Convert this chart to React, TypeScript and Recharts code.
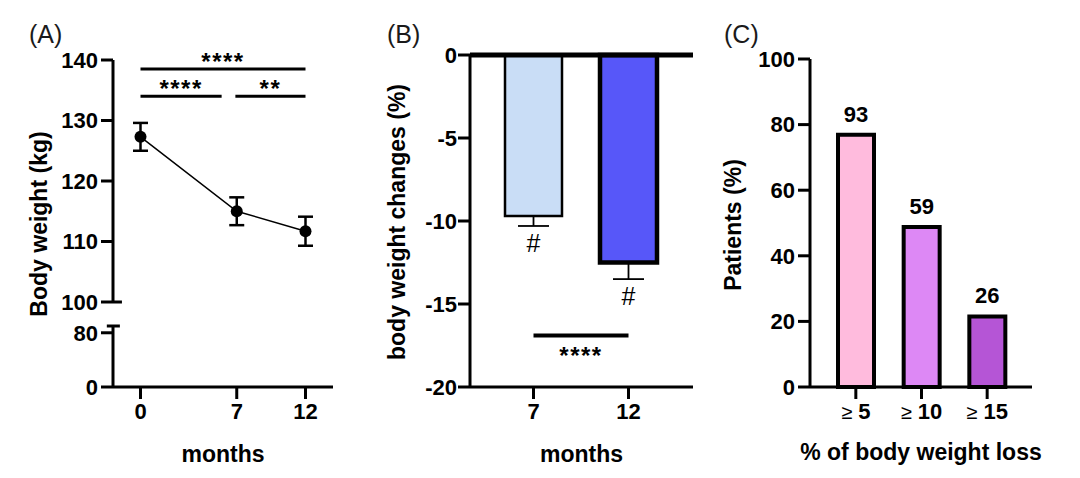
import React from 'react';
import {
  LineChart,
  Line,
  BarChart,
  Bar,
  Cell,
  XAxis,
  YAxis,
  ErrorBar,
  ReferenceLine,
  ReferenceDot,
  LabelList,
} from 'recharts';

const FONT = '"Liberation Sans", Arial, Helvetica, sans-serif';

// (A) body weight over follow-up
const months = [0, 7, 12];
const bodyWeight = [127.3, 115.0, 111.7];
const bodyWeightSem = [2.3, 2.3, 2.4];
const weightTicksUpper = [100, 110, 120, 130, 140];
const weightTicksLower = [0, 80];

// (B) change from baseline
const changeMonths = ['7', '12'];
const weightChange = [-9.7, -12.5];
const weightChangeSem = [0.6, 1.0];
const changeFills = ['#C9DDF6', '#5757F9'];
const changeStrokes = [2.5, 4.5];
const changeTicks = [-20, -15, -10, -5, 0];

// (C) share of patients reaching each threshold
const lossThresholds = ['≥ 5', '≥ 10', '≥ 15'];
const patientShare = [76.9, 48.8, 21.5];
const patientCounts = [93, 59, 26];
const lossFills = ['#FFBBDD', '#DD88F5', '#B555D6'];
const patientTicks = [0, 20, 40, 60, 80, 100];

const weightData = months.map((m, i) => ({ month: m, weight: bodyWeight[i], sem: bodyWeightSem[i] }));
const changeData = changeMonths.map((m, i) => ({
  month: m,
  change: weightChange[i],
  err: [weightChangeSem[i], 0],
  low: weightChange[i] - weightChangeSem[i],
}));
const lossData = lossThresholds.map((t, i) => ({ threshold: t, share: patientShare[i], count: patientCounts[i] }));

const black = '#000';
const axisLine = { stroke: black, strokeWidth: 3 };
const tickLine = { stroke: black, strokeWidth: 3 };
const tick = { fill: black, fontSize: 22, fontWeight: 700, fontFamily: FONT };
const starLabel = { fill: black, fontSize: 24, fontWeight: 700, fontFamily: FONT, letterSpacing: 1.5 };

const yTitle = (text: string, x: number, y: number) => () => (
  <text
    x={x}
    y={y}
    transform={`rotate(-90 ${x} ${y})`}
    textAnchor="middle"
    dominantBaseline="central"
    fontSize={23}
    fontWeight={700}
    fontFamily={FONT}
    fill={black}
  >
    {text}
  </text>
);

const xTitle = (text: string, offset: number) => ({
  value: text,
  position: 'insideBottom' as const,
  offset,
  fontSize: 23,
  fontWeight: 700,
  fontFamily: FONT,
  fill: black,
});

const ThresholdTick = ({ x, y, payload }: any) => {
  const [sym, num] = String(payload.value).split(' ');
  return (
    <text x={x} y={y} dy="0.71em" textAnchor="middle" fontFamily={FONT} fontSize={22} fill={black}>
      <tspan fontWeight={400} fontSize={20}>{sym}</tspan>
      <tspan fontWeight={700}> {num}</tspan>
    </text>
  );
};

function PanelA() {
  return (
    <>
      <div style={{ position: 'absolute', left: 0, top: 310 }}>
        <LineChart width={360} height={168} data={weightData} margin={{ top: 16, right: 27, bottom: 0, left: 0 }}>
          <XAxis
            type="number"
            dataKey="month"
            domain={[-2, 14]}
            ticks={months}
            interval={0}
            height={91}
            axisLine={axisLine}
            tickLine={tickLine}
            tickSize={12}
            tickMargin={4}
            tick={tick}
            label={xTitle('months', 16)}
          />
          <YAxis
            width={113}
            domain={[0, 90]}
            allowDataOverflow
            ticks={weightTicksLower}
            interval={0}
            axisLine={axisLine}
            tickLine={tickLine}
            tickSize={12}
            tickMargin={3}
            tick={tick}
          />
          {/* axis break cap */}
          <ReferenceLine
            segment={[{ x: -2.45, y: 90 }, { x: -1.5, y: 90 }]}
            stroke={black}
            strokeWidth={3}
            ifOverflow="visible"
          />
          <Line dataKey="weight" stroke="none" dot={false} activeDot={false} isAnimationActive={false} />
        </LineChart>
      </div>
      <div style={{ position: 'absolute', left: 0, top: 0 }}>
        <LineChart width={360} height={478} data={weightData} margin={{ top: 60, right: 27, bottom: 176, left: 0 }}>
          <XAxis type="number" dataKey="month" domain={[-2, 14]} hide />
          <YAxis
            width={113}
            domain={[100, 140]}
            ticks={weightTicksUpper}
            interval={0}
            axisLine={axisLine}
            tickLine={tickLine}
            tickSize={12}
            tickMargin={3}
            tick={tick}
            label={{ content: yTitle('Body weight (kg)', 39, 224) }}
          />
          {/* axis break cap */}
          <ReferenceLine
            segment={[{ x: -2, y: 100 }, { x: -1.35, y: 100 }]}
            stroke={black}
            strokeWidth={3}
            ifOverflow="visible"
          />
          <ReferenceLine
            segment={[{ x: 0, y: 138.5 }, { x: 12, y: 138.5 }]}
            stroke={black}
            strokeWidth={3}
            label={{ value: '****', position: 'top', offset: -1, ...starLabel }}
          />
          <ReferenceLine
            segment={[{ x: 0, y: 134 }, { x: 5.9, y: 134 }]}
            stroke={black}
            strokeWidth={3}
            label={{ value: '****', position: 'top', offset: -1, ...starLabel }}
          />
          <ReferenceLine
            segment={[{ x: 6.9, y: 134 }, { x: 12, y: 134 }]}
            stroke={black}
            strokeWidth={3}
            label={{ value: '**', position: 'top', offset: -1, ...starLabel }}
          />
          <Line
            dataKey="weight"
            stroke={black}
            strokeWidth={1.5}
            dot={{ r: 6, fill: black, stroke: black, strokeWidth: 0 }}
            activeDot={false}
            isAnimationActive={false}
          >
            <ErrorBar dataKey="sem" direction="y" width={7.5} stroke={black} strokeWidth={2.5} />
          </Line>
        </LineChart>
      </div>
    </>
  );
}

function PanelB() {
  return (
    <div style={{ position: 'absolute', left: 360, top: 0 }}>
      <BarChart width={360} height={478} data={changeData} margin={{ top: 55, right: 27, bottom: 0, left: 0 }}>
        <XAxis
          dataKey="month"
          height={91}
          padding={{ left: 16, right: 17 }}
          interval={0}
          axisLine={axisLine}
          tickLine={tickLine}
          tickSize={12}
          tickMargin={4}
          tick={tick}
          label={xTitle('months', 16)}
        />
        <YAxis
          width={110}
          domain={[-20, 0]}
          ticks={changeTicks}
          interval={0}
          axisLine={axisLine}
          tickLine={tickLine}
          tickSize={12}
          tickMargin={1}
          tick={tick}
          label={{ content: yTitle('body weight changes (%)', 37, 222) }}
        />
        <Bar dataKey="change" barSize={57} isAnimationActive={false}>
          {changeData.map((d, i) => (
            <Cell key={d.month} fill={changeFills[i]} stroke={black} strokeWidth={changeStrokes[i]} />
          ))}
          <ErrorBar dataKey="err" direction="y" width={15.5} stroke={black} strokeWidth={1.8} />
        </Bar>
        <ReferenceLine y={0} stroke={black} strokeWidth={5} />
        <ReferenceLine
          segment={[{ x: '7', y: -16.9 }, { x: '12', y: -16.9 }]}
          stroke={black}
          strokeWidth={4}
          label={{ value: '****', position: 'bottom', offset: 11, ...starLabel }}
        />
        {changeData.map((d) => (
          <ReferenceDot
            key={d.month}
            x={d.month}
            y={d.low}
            r={0}
            fill="none"
            stroke="none"
            label={{ value: '#', position: 'bottom', offset: 8, fill: black, fontSize: 25, fontFamily: FONT }}
          />
        ))}
      </BarChart>
    </div>
  );
}

function PanelC() {
  return (
    <div style={{ position: 'absolute', left: 720, top: 0 }}>
      <BarChart width={360} height={478} data={lossData} margin={{ top: 59, right: 48, bottom: 0, left: 0 }}>
        <XAxis
          dataKey="threshold"
          height={91}
          padding={{ left: 13, right: 12 }}
          interval={0}
          axisLine={axisLine}
          tickLine={tickLine}
          tickSize={12}
          tickMargin={4}
          tick={<ThresholdTick />}
          label={xTitle('% of body weight loss', 18)}
        />
        <YAxis
          width={90}
          domain={[0, 100]}
          ticks={patientTicks}
          interval={0}
          axisLine={axisLine}
          tickLine={tickLine}
          tickSize={12}
          tickMargin={3}
          tick={tick}
          label={{ content: yTitle('Patients (%)', 13, 225) }}
        />
        <Bar dataKey="share" barSize={36} isAnimationActive={false}>
          {lossData.map((d, i) => (
            <Cell key={d.threshold} fill={lossFills[i]} stroke={black} strokeWidth={4} />
          ))}
          <LabelList
            dataKey="count"
            position="top"
            offset={13}
            fill={black}
            fontSize={22}
            fontWeight={700}
            fontFamily={FONT}
          />
        </Bar>
      </BarChart>
    </div>
  );
}

export default function App() {
  return (
    <div style={{ position: 'absolute', left: 0, top: 0, width: 1080, height: 478, background: '#fff', fontFamily: FONT }}>
      <PanelA />
      <PanelB />
      <PanelC />
      <svg width={1080} height={478} style={{ position: 'absolute', left: 0, top: 0, pointerEvents: 'none' }}>
        <text x={29} y={43} fontSize={25} fontFamily={FONT} fill="#1a1a1a">(A)</text>
        <text x={387} y={43} fontSize={25} fontFamily={FONT} fill="#1a1a1a">(B)</text>
        <text x={724} y={43} fontSize={25} fontFamily={FONT} fill="#1a1a1a">(C)</text>
      </svg>
    </div>
  );
}
